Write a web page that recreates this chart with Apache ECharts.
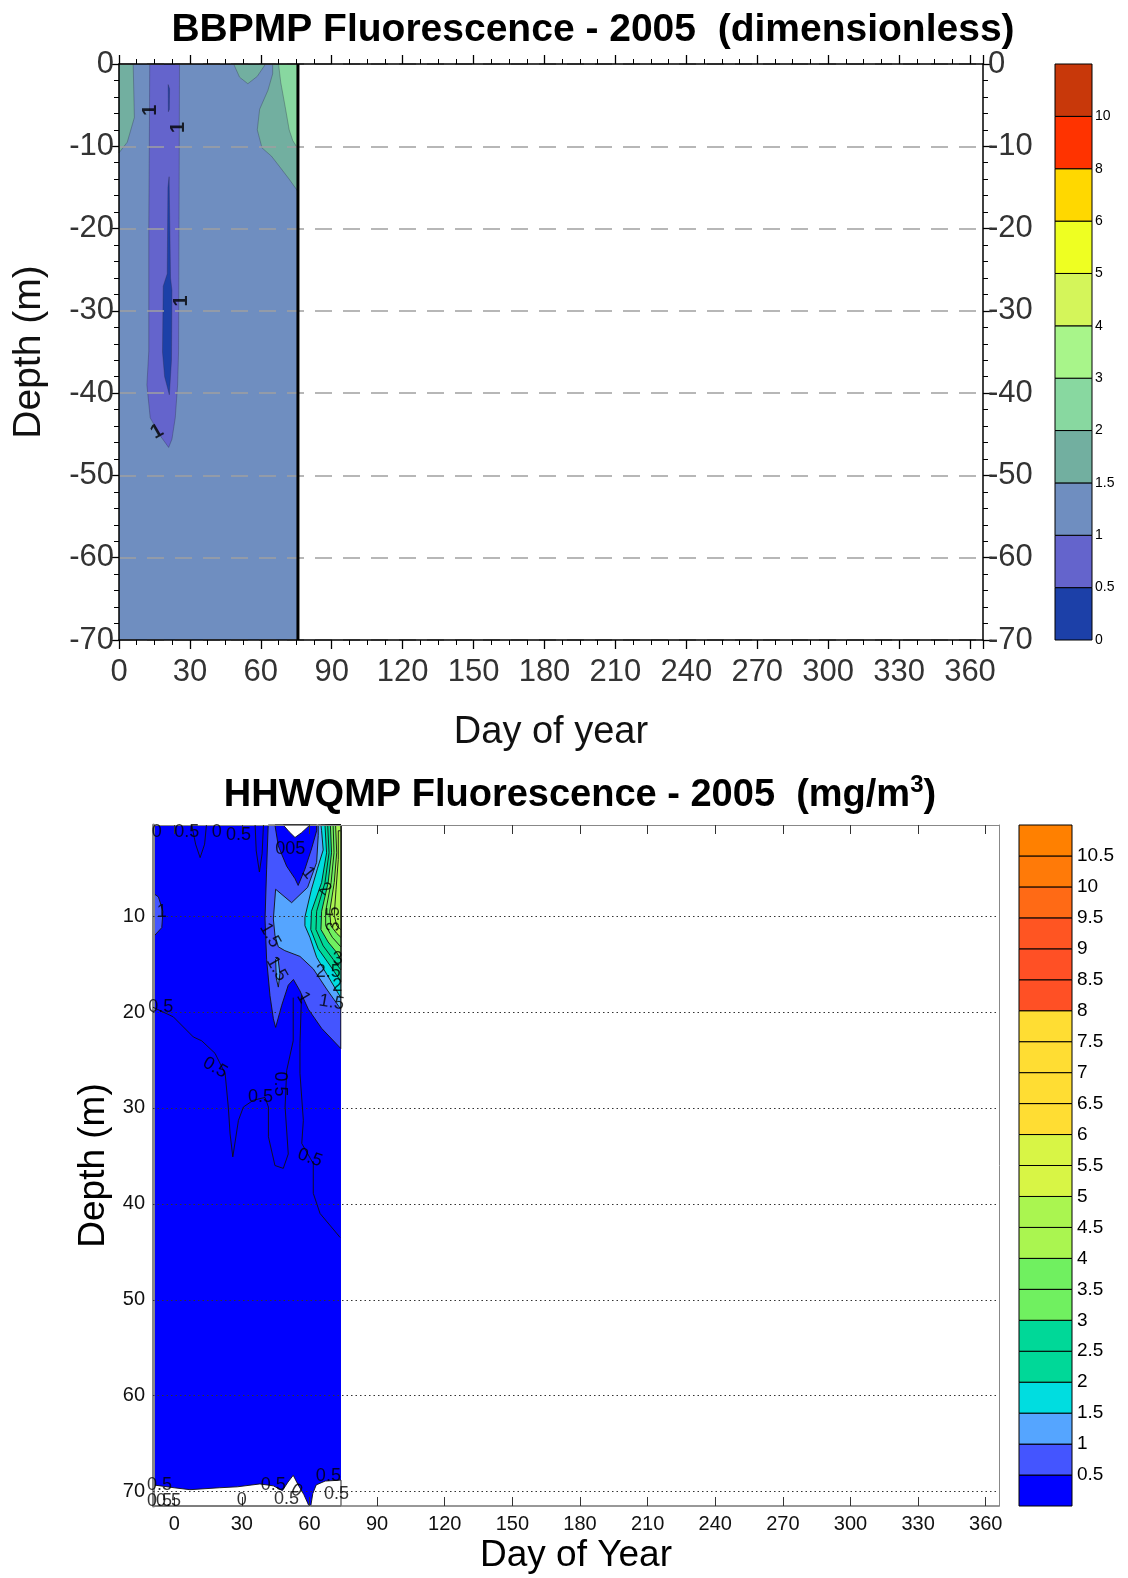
<!DOCTYPE html>
<html>
<head>
<meta charset="utf-8">
<script src="https://cdn.jsdelivr.net/npm/echarts@6.0.0/dist/echarts.min.js"></script>
<style>
  html, body { margin: 0; padding: 0; background: #fff; }
  #chart { width: 1128px; height: 1578px; }
</style>
</head>
<body>
<div id="chart"></div>
<script>
// ---------- top panel: BBPMP (dimensionless) ----------
const bbLevels = ['0', '0.5', '1', '1.5', '2', '3', '4', '5', '6', '8', '10'];
const bbColors = ['#1c40a8', '#6464cc', '#6f8ec0', '#72afa0', '#88d8a0', '#a8f58a',
                  '#d4f55a', '#eeff22', '#ffd800', '#ff3300', '#c8380a'];
const bbLastDay = 75.7;
// filled contour regions: [band, [[day, depth], ...]]
const bbRegions = [
  [2, [[0, 0], [75.7, 0], [75.7, -70], [0, -70]]],
  [3, [[0, 0], [6, 0], [6.5, -6.5], [3.5, -9.5], [0, -10.8]]],
  [3, [[48.5, 0], [51, -1.6], [54.5, -2.4], [58.5, -1.5], [62, 0]]],
  [3, [[65, 0], [75.7, 0], [75.7, -15.5], [72, -14], [68, -12.5], [64.5, -11.2], [60.5, -10.2],
       [58.5, -8], [59.5, -5.5], [63, -3.2], [65, -1.2]]],
  [4, [[67.5, 0], [75.7, 0], [75.7, -10.3], [73.5, -9.3], [72, -8], [70.3, -5.2], [68.4, -2.2]]],
  [1, [[13, 0], [25.6, 0], [25.5, -10], [25.2, -34.9], [24.8, -39], [23.8, -43], [22.4, -45.6],
       [21, -46.6], [17.5, -45.2], [13.2, -43], [11.8, -39], [12.6, -34.9], [12.6, -20], [12.9, -6]]],
  [0, [[21.2, -13.7], [21.8, -26], [22.4, -27.5], [22.2, -36], [21.3, -40.2], [19.3, -38],
       [18.4, -35], [18.7, -27], [20.4, -25.5], [20.7, -15]]],
  [0, [[20.8, -2.5], [21.4, -3], [21.3, -5.5], [20.9, -5.8]]]
];
const bbLabels = [['1', 13.2, -5.6], ['1', 25.2, -7.7], ['1', 26.6, -28.8], ['1', 16.1, -44.7]];
const bbLabelRotate = [90, 90, 90, 30];

// ---------- bottom panel: HHWQMP (mg/m3) ----------
const hhLevels = ['0.5', '1', '1.5', '2', '2.5', '3', '3.5', '4', '4.5', '5', '5.5', '6',
                  '6.5', '7', '7.5', '8', '8.5', '9', '9.5', '10', '10.5'];
const hhColors = ['#0000ff', '#4455ff', '#55a5ff', '#00dde0', '#00d898', '#00d898', '#70f060',
                  '#70f060', '#aaf550', '#aaf550', '#d8f545', '#d8f545', '#ffdd33', '#ffdd33',
                  '#ffdd33', '#ffdd33', '#ff5025', '#ff5025', '#ff5522', '#ff6a15', '#ff7a08', '#ff8000'];
const hhDayTicks = [0, 30, 60, 90, 120, 150, 180, 210, 240, 270, 300, 330, 360];
const hhDepthTicks = [10, 20, 30, 40, 50, 60, 70];
// band -1 = no data (white)
const hhRegions = [
  [0, [[-9.4, 0.5], [74, 0.5], [74, 71.5], [-9.4, 71.5]]],
  [1, [[41.7, 0.5], [41, 5.1], [40.3, 10.3], [41, 14.5], [42.5, 18.3], [44, 20.7], [45, 21.6],
       [47.7, 19.3], [50.6, 17.2], [52.9, 16.6], [55.8, 17.8], [59.5, 19.7], [65.4, 21.7],
       [73.9, 23.8], [73.9, 0.5]]],
  [1, [[-9.4, 7.6], [-7, 8], [-5, 9.5], [-5.5, 11.2], [-9.4, 12.2]]],
  [0, [[44.7, 0.5], [46.2, 2.7], [49.9, 4.8], [53.6, 6.1], [55, 6.8], [58, 5.1], [60.9, 3.0],
       [63.2, 1.1], [63.2, 0.5]]],
  [2, [[63.9, 0.5], [73.9, 0.5], [73.9, 19.7], [67.6, 17.6], [61.7, 15.5], [55.8, 14.2],
       [49.1, 13.6], [46.2, 13.2], [44.7, 12], [44, 10.3], [45, 7.2], [52.1, 8.6], [59.2, 7],
       [63.2, 4.4], [63.9, 1.6]]],
  [2, [[45, 14.5], [46, 14.3], [46.9, 16], [46.2, 17.4], [45.3, 16.5]]],
  [3, [[65.1, 0.5], [73.9, 0.5], [73.9, 18.5], [68.3, 16.3], [63.2, 14.3], [60.2, 12.2],
       [58, 11], [58, 10.1], [60.9, 7.2], [63.6, 5], [66.1, 3.1], [65.4, 1.1]]],
  [4, [[66.9, 0.5], [73.9, 0.5], [73.9, 16.8], [69, 15.1], [63.9, 13.4], [60.6, 11.4],
       [60.9, 9.5], [65.4, 6.5], [67.6, 3.4]]],
  [5, [[68.1, 0.5], [73.9, 0.5], [73.9, 15.6], [70.5, 14.5], [66.1, 13.1], [62.9, 11.4],
       [63.2, 9.5], [66.9, 6.5], [68.7, 3.4]]],
  [6, [[69.3, 0.5], [73.9, 0.5], [73.9, 14.5], [72.1, 13.8], [68.3, 12.7], [65.1, 11.4],
       [65.4, 9.5], [68.3, 6.5], [69.8, 3.4]]],
  [7, [[70.5, 0.5], [73.9, 0.5], [73.9, 13.2], [70.1, 12.2], [67.2, 11], [67.2, 9.5],
       [69.6, 6.5], [70.9, 3.4]]],
  [8, [[71.6, 0.5], [73.9, 0.5], [73.9, 12.2], [72.1, 11.8], [69.5, 11], [69, 9.5],
       [71, 6.5], [72.1, 3.4]]],
  [9, [[72.8, 1.1], [73.9, 1.1], [73.9, 11.4], [72.1, 11], [71, 9.9], [71.8, 7.2], [72.8, 4.1]]],
  [-1, [[48.4, 0.5], [51, 1.2], [53.6, 1.8], [56.5, 1.3], [60.2, 0.5]]],
  [-1, [[-9.4, 69.3], [0, 69.6], [7, 69.8], [20, 69.6], [28, 69.5], [38, 69.2], [44, 69.4],
        [48, 69.9], [50.5, 69], [52.8, 68.3], [55, 69.3], [57.5, 70.3], [59.8, 71.5], [-9.4, 71.5]]],
  [-1, [[60.6, 71.5], [61.5, 70.2], [63, 69.3], [67, 68.9], [74, 68.8], [74, 71.5]]]
];
// unfilled 0.5 contour lines
const hhLines = [
  [[-9.4, 19.5], [-0.4, 20.5], [8.5, 22.6], [12.2, 23.0], [18.1, 24.3], [22.6, 26.4], [24, 29.9],
   [24.8, 32.7], [26, 35.1], [28.5, 31.3], [30.7, 29.9], [35.1, 29.2], [40.3, 28.9], [41.8, 29.9],
   [41.8, 33], [44.7, 36], [48.4, 36.3], [50.6, 34.8], [49.2, 29.9], [49.9, 26.1], [52.8, 23],
   [52.8, 18.5]],
  [[56.5, 18.2], [55.8, 23.3], [55.8, 26.4], [57.3, 31.3], [56.6, 33.7], [61.7, 35.8],
   [61.7, 38.9], [64.7, 41], [73.6, 43.5]],
  [[7.8, 0.5], [9.5, 2.5], [11.5, 3.9], [13.5, 2.5], [14.3, 0.5]],
  [[35.9, 0.5], [36.4, 3.2], [37.8, 5.4], [39, 3.5], [39.6, 0.5]]
];
const hhLabels = [
  ['0', -7.7, 1.2], ['0.5', 5.6, 1.2], ['0', 18.9, 1.2], ['0.5', 28.5, 1.5],
  ['1', -5.5, 9.6], ['0.5', -6, 19.5], ['0.5', 18.1, 25.8], ['0.5', 38.3, 28.9],
  ['0.5', 47, 27.5], ['0.5', 60.2, 35.2], ['005', 51.5, 3.0], ['1', 59.5, 5.5],
  ['2', 66.9, 7.2], ['3.5', 71, 10.3], ['1.5', 42.5, 12], ['1.5', 45.5, 15.5],
  ['2.5', 68.3, 15.8], ['3', 72.6, 14.5], ['2', 72.3, 17.3], ['1', 57.3, 18.5],
  ['1.5', 69.8, 19], ['0.5', -6.5, 69.3], ['0.5', -6.5, 71.0], ['0.5', -2.5, 71.0],
  ['0', 30, 70.9], ['0.5', 44, 69.3], ['0', 54.3, 69.9], ['0.5', 49.8, 70.8],
  ['0.5', 68.4, 68.4], ['0.5', 72, 70.3]
];
const hhLabelRotate = [0, 0, 0, 0, 0, 0, -30, 0, -90, -20, 0, -50, -40, 90, -60, -60,
                       0, 0, 0, -60, -10, 0, 0, 0, 0, 0, -30, 0, 0, 0];

const sans = "'Liberation Sans', Arial, sans-serif";

function regionSeries(regions, colors, xi, yi, stroke) {
  return {
    type: 'custom', xAxisIndex: xi, yAxisIndex: yi, z: 2, silent: true,
    data: regions.map((r, i) => [r[1][0][0], r[1][0][1], i]),
    renderItem: (params, api) => {
      const r = regions[api.value(2)];
      const pts = r[1].map(p => api.coord(p));
      return {
        type: 'polygon',
        shape: { points: pts },
        style: {
          fill: r[0] < 0 ? '#ffffff' : colors[r[0]],
          stroke: params.dataIndex === 0 ? null : stroke,
          lineWidth: 0.9
        }
      };
    }
  };
}

function colorbarSeries(colors, xi, yi) {
  return {
    type: 'custom', xAxisIndex: xi, yAxisIndex: yi, silent: true,
    data: colors.map((c, i) => [0, i, i]),
    renderItem: (params, api) => {
      const i = api.value(2);
      const a = api.coord([0, i]);
      const b = api.coord([1, i + 1]);
      return {
        type: 'rect',
        shape: { x: a[0], y: b[1], width: b[0] - a[0], height: a[1] - b[1] },
        style: { fill: colors[i], stroke: '#000', lineWidth: 1 }
      };
    }
  };
}

function labelSeries(labels, rotations, xi, yi, font) {
  return {
    type: 'scatter', xAxisIndex: xi, yAxisIndex: yi, z: 8, silent: true,
    symbolSize: 1, itemStyle: { color: 'transparent' },
    data: labels.map((l, i) => ({ name: l[0], value: [l[1], l[2]], label: { rotate: rotations[i] } })),
    label: { show: true, position: 'inside', formatter: '{b}', color: '#000', ...font }
  };
}

const chart = echarts.init(document.getElementById('chart'), null, { renderer: 'canvas' });

const blackLine = { onZero: false, lineStyle: { color: '#000', width: 1.5 } };
const topTick = { length: 9, lineStyle: { color: '#000', width: 1.3 } };
const topLabel = { fontSize: 31, color: '#333', fontFamily: sans };

const option = {
  animation: false,
  backgroundColor: '#fff',
  textStyle: { fontFamily: sans },
  title: [
    {
      text: 'BBPMP Fluorescence - 2005  (dimensionless)',
      left: 588, top: 6, textAlign: 'center',
      textStyle: { fontSize: 39, fontWeight: 'bold', color: '#000', fontFamily: sans }
    },
    {
      text: '{t|HHWQMP Fluorescence - 2005  (mg/m}{s|3}{t|)}',
      left: 575, top: 768, textAlign: 'center',
      textStyle: {
        rich: {
          t: { fontSize: 38, fontWeight: 'bold', color: '#000', fontFamily: sans, lineHeight: 46 },
          s: { fontSize: 24, fontWeight: 'bold', color: '#000', fontFamily: sans, verticalAlign: 'top', lineHeight: 24 }
        }
      }
    }
  ],
  grid: [
    { left: 119, top: 64, width: 864, height: 576, outerBoundsMode: 'none' },
    { left: 1055, top: 64, width: 37, height: 576, outerBoundsMode: 'none' },
    { left: 153, top: 825, width: 846, height: 681, outerBoundsMode: 'none' },
    { left: 1019, top: 825, width: 53, height: 681, outerBoundsMode: 'none' }
  ],
  xAxis: [
    {
      gridIndex: 0, type: 'value', position: 'bottom', min: 0, max: 365.5, interval: 30, z: 5,
      axisLine: blackLine, axisTick: topTick,
      minorTick: { show: true, splitNumber: 4, length: 5, lineStyle: { color: '#000' } },
      axisLabel: { ...topLabel, margin: 17, showMaxLabel: false },
      splitLine: { show: false },
      name: 'Day of year', nameLocation: 'middle', nameGap: 74,
      nameTextStyle: { fontSize: 38, color: '#111', fontFamily: sans }
    },
    {
      gridIndex: 0, type: 'value', position: 'top', min: 0, max: 365.5, interval: 30, z: 5,
      axisLine: blackLine, axisTick: topTick,
      minorTick: { show: true, splitNumber: 4, length: 5, lineStyle: { color: '#000' } },
      axisLabel: { show: false }, splitLine: { show: false }
    },
    { gridIndex: 1, type: 'value', min: 0, max: 1, show: false },
    {
      gridIndex: 2, type: 'value', position: 'bottom', min: -9.4, max: 365.9, z: 5,
      axisLine: { onZero: false, lineStyle: { color: '#777', width: 1.5 } },
      axisTick: { inside: true, length: 9, customValues: hhDayTicks, lineStyle: { color: '#333' } },
      axisLabel: { customValues: hhDayTicks, fontSize: 20, color: '#111', margin: 8 },
      splitLine: { show: false },
      name: 'Day of Year', nameLocation: 'middle', nameGap: 31,
      nameTextStyle: { fontSize: 37, color: '#000' }
    },
    {
      gridIndex: 2, type: 'value', position: 'top', min: -9.4, max: 365.9, z: 5,
      axisLine: { onZero: false, lineStyle: { color: '#888', width: 1 } },
      axisTick: { inside: true, length: 9, customValues: hhDayTicks, lineStyle: { color: '#333' } },
      axisLabel: { show: false }, splitLine: { show: false }
    },
    { gridIndex: 3, type: 'value', min: 0, max: 1, show: false }
  ],
  yAxis: [
    {
      gridIndex: 0, type: 'value', position: 'left', min: -70, max: 0, interval: 10, z: 4,
      axisLine: blackLine, axisTick: topTick,
      minorTick: { show: true, splitNumber: 5, length: 5, lineStyle: { color: '#000' } },
      axisLabel: { ...topLabel, margin: 5 },
      splitLine: { show: true, lineStyle: { type: [17, 11], color: '#a0a0a0', width: 1.6 } },
      name: 'Depth (m)', nameLocation: 'middle', nameGap: 70,
      nameTextStyle: { fontSize: 39, color: '#111', fontFamily: sans }
    },
    {
      gridIndex: 0, type: 'value', position: 'right', min: -70, max: 0, interval: 10, z: 4,
      axisLine: blackLine, axisTick: topTick,
      minorTick: { show: true, splitNumber: 5, length: 5, lineStyle: { color: '#000' } },
      axisLabel: { ...topLabel, margin: 5 },
      splitLine: { show: false }
    },
    {
      gridIndex: 1, type: 'value', position: 'right', min: 0, max: 11, interval: 1,
      axisLine: { show: false }, axisTick: { show: false }, splitLine: { show: false },
      axisLabel: { fontSize: 14, color: '#000', margin: 3, formatter: v => bbLevels[v] ?? '' }
    },
    {
      gridIndex: 2, type: 'value', position: 'left', inverse: true, min: 0.5, max: 71.5, z: 4,
      axisLine: { onZero: false, lineStyle: { color: '#888', width: 3 } },
      axisTick: { show: false },
      axisLabel: { customValues: hhDepthTicks, fontSize: 20, color: '#111', margin: 8 },
      splitLine: { show: false },
      name: 'Depth (m)', nameLocation: 'middle', nameGap: 40,
      nameTextStyle: { fontSize: 37, color: '#000' }
    },
    {
      gridIndex: 2, type: 'value', position: 'right', inverse: true, min: 0.5, max: 71.5, z: 4,
      axisLine: { onZero: false, lineStyle: { color: '#888', width: 1 } },
      axisTick: { show: false }, axisLabel: { show: false }, splitLine: { show: false }
    },
    {
      gridIndex: 3, type: 'value', position: 'right', min: 0, max: 22, interval: 1,
      axisLine: { show: false }, axisTick: { show: false }, splitLine: { show: false },
      axisLabel: { fontSize: 19, color: '#000', margin: 5, formatter: v => hhLevels[v - 1] ?? '' }
    }
  ],
  series: [
    regionSeries(bbRegions, bbColors, 0, 0, 'rgba(40,40,60,0.35)'),
    {
      type: 'line', xAxisIndex: 0, yAxisIndex: 0, z: 6, silent: true, symbol: 'none',
      lineStyle: { color: '#000', width: 3 },
      data: [[bbLastDay, 0], [bbLastDay, -70]]
    },
    labelSeries(bbLabels, bbLabelRotate, 0, 0, { fontSize: 20, fontWeight: 'bold' }),
    colorbarSeries(bbColors, 2, 2),
    regionSeries(hhRegions, hhColors, 3, 3, '#111'),
    ...hhLines.map((line, i) => ({
      type: 'line', xAxisIndex: 3, yAxisIndex: 3, z: 6, silent: true, symbol: 'none',
      lineStyle: { color: '#111', width: 0.9 },
      data: line,
      markLine: i === 0 ? {
        silent: true, symbol: ['none', 'none'], label: { show: false },
        lineStyle: { type: [1.5, 3], color: '#333', width: 1 },
        data: hhDepthTicks.map(v => ({ yAxis: v }))
      } : undefined
    })),
    labelSeries(hhLabels, hhLabelRotate, 3, 3, { fontSize: 18 }),
    colorbarSeries(hhColors, 5, 5)
  ]
};
chart.setOption(option);
</script>
</body>
</html>
